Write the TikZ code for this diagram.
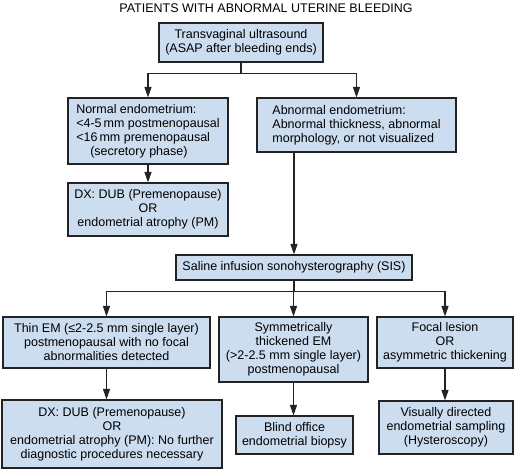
\documentclass[tikz,border=0pt]{standalone}
\usepackage{fontspec}
\setmainfont{Liberation Sans}
\usetikzlibrary{arrows.meta}
\definecolor{boxfill}{RGB}{204,221,240}
\definecolor{boxline}{RGB}{35,35,35}
\tikzset{
  flowbox/.style={draw=boxline, fill=boxfill, line width=1.1pt, inner sep=0pt,
    font=\fontsize{12.5}{14}\selectfont, align=center},
  arr/.style={draw=boxline, line width=1.1pt, -{Triangle[length=10.5pt,width=7pt]}},
}
\begin{document}
\begin{tikzpicture}[x=1pt,y=-1pt]
\useasboundingbox (0,0) rectangle (515,469);

\node[font=\fontsize{12.5}{14}\selectfont] (title) at (266,8) {PATIENTS WITH ABNORMAL UTERINE BLEEDING};

\node[flowbox, minimum width=164pt, minimum height=39pt] (tvus) at (241,42.5) {Transvaginal ultrasound\\(ASAP after bleeding ends)};
\node[flowbox, minimum width=160pt, minimum height=66pt, align=left] (normal) at (148,131) {Normal endometrium:\\<4-5\,mm postmenopausal\\<16\,mm premenopausal\\\hspace*{14pt}(secretory phase)};
\node[flowbox, minimum width=199pt, minimum height=54pt, align=left] (abnormal) at (356.5,125) {Abnormal endometrium:\\Abnormal thickness, abnormal\\morphology, or not visualized};
\node[flowbox, minimum width=160pt, minimum height=53pt] (dxone) at (148,209.5) {DX: DUB (Premenopause)\\OR\\endometrial atrophy (PM)};
\node[flowbox, minimum width=236pt, minimum height=25pt] (sis) at (294,267.5) {Saline infusion sonohysterography (SIS)};

\node[flowbox, minimum width=207pt, minimum height=51pt] (thin) at (106.5,342.5) {Thin EM (≤2-2.5 mm single layer)\\postmenopausal with no focal\\abnormalities detected};
\node[flowbox, minimum width=149pt, minimum height=65pt] (sym) at (293.5,349.5) {Symmetrically\\thickened EM\\(>2-2.5 mm single layer)\\postmenopausal};
\node[flowbox, minimum width=136pt, minimum height=51pt] (focal) at (445,342.5) {Focal lesion\\OR\\asymmetric thickening};

\node[flowbox, minimum width=220pt, minimum height=68pt] (dxtwo) at (112,434) {DX: DUB (Premenopause)\\OR\\endometrial atrophy (PM): No further\\diagnostic procedures necessary};
\node[flowbox, minimum width=117pt, minimum height=38pt] (blind) at (294.5,435) {Blind office\\endometrial biopsy};
\node[flowbox, minimum width=134pt, minimum height=53pt] (visual) at (446,427.5) {Visually directed\\endometrial sampling\\(Hysteroscopy)};

\draw[arr] (tvus.south) -- ++(0,10.5) -| (normal.north);
\draw[arr] (tvus.south) -- ++(0,10.5) -| (abnormal.north);
\draw[arr] (normal.south) -- (dxone.north);
\draw[arr] (abnormal.south -| sis.north) -- (sis.north);

\draw[arr] (sis.south) -- ++(0,11) -| (thin.north);
\draw[arr] (sis.south) -- ++(0,11) -| (sym.north);
\draw[arr] (sis.south) -- ++(0,11) -| (focal.north);

\draw[arr] (thin.south) -- (thin.south |- dxtwo.north);
\draw[arr] (sym.south) -- (sym.south |- blind.north);
\draw[arr] (focal.south) -- (focal.south |- visual.north);
\end{tikzpicture}
\end{document}
